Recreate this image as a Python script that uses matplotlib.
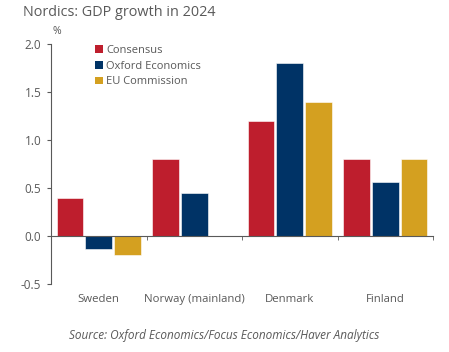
import numpy as np
import matplotlib.pyplot as plt
from matplotlib.patches import Patch

plt.rcParams['font.family'] = ['Open Sans', 'DejaVu Sans']

countries = ['Sweden', 'Norway (mainland)', 'Denmark', 'Finland']
consensus = [0.4, 0.8, 1.2, 0.8]
oxford = [-0.14, 0.45, 1.8, 0.56]
eu_comm = [-0.2, 0.0, 1.4, 0.8]
series_names = ['Consensus', 'Oxford Economics', 'EU Commission']
colors = ['#BE1E2D', '#003366', '#D4A020']

grey = '#595959'

fig = plt.figure(figsize=(4.49, 3.52), dpi=100)
ax = fig.add_axes([0.1136, 0.193, 0.8508, 0.682])

x = np.arange(len(countries))
w = 0.28
for i, (vals, c) in enumerate(zip([consensus, oxford, eu_comm], colors)):
    ax.bar(x + (i - 1) * 0.30, vals, width=w, color=c, edgecolor='white', linewidth=0.4, zorder=2)

ax.set_xlim(-0.5, 3.5)
ax.set_ylim(-0.5, 2.0)
ax.set_yticks([-0.5, 0.0, 0.5, 1.0, 1.5, 2.0])
ax.set_yticklabels(['-0.5', '0.0', '0.5', '1.0', '1.5', '2.0'])

for s in ['top', 'right']:
    ax.spines[s].set_visible(False)
ax.spines['left'].set_color(grey)
ax.spines['bottom'].set_color(grey)
ax.spines['bottom'].set_position(('data', 0))
ax.spines['bottom'].set_zorder(3)

ax.set_xticks(x)
ax.set_xticklabels(countries)
ax.set_xticks(x + 0.5, minor=True)
ax.tick_params(axis='x', which='major', length=0, pad=42, labelsize=8.2, labelcolor=grey)
ax.tick_params(axis='x', which='minor', length=3, color=grey, direction='out')
ax.tick_params(axis='y', length=3, color=grey, labelsize=8.5, labelcolor=grey, pad=4)

fig.text(0.051, 0.985, 'Nordics: GDP growth in 2024', fontsize=10.4, color=grey, va='top', ha='left')
fig.text(0.118, 0.91, '%', fontsize=7.5, color=grey, ha='left', va='center')

handles = [Patch(facecolor=c, edgecolor='none') for c in colors]
ax.legend(handles, series_names, loc='upper left', bbox_to_anchor=(0.212, 0.872),
          bbox_transform=fig.transFigure, frameon=False, fontsize=8,
          handlelength=0.7, handleheight=0.7, handletextpad=0.3, labelspacing=0.42,
          labelcolor=grey, borderaxespad=0, borderpad=0)

fig.text(0.5, 0.048, 'Source: Oxford Economics/Focus Economics/Haver Analytics',
         fontsize=8.5, style='italic', color=grey, ha='center', va='center')

fig.savefig('out.png', dpi=100)
